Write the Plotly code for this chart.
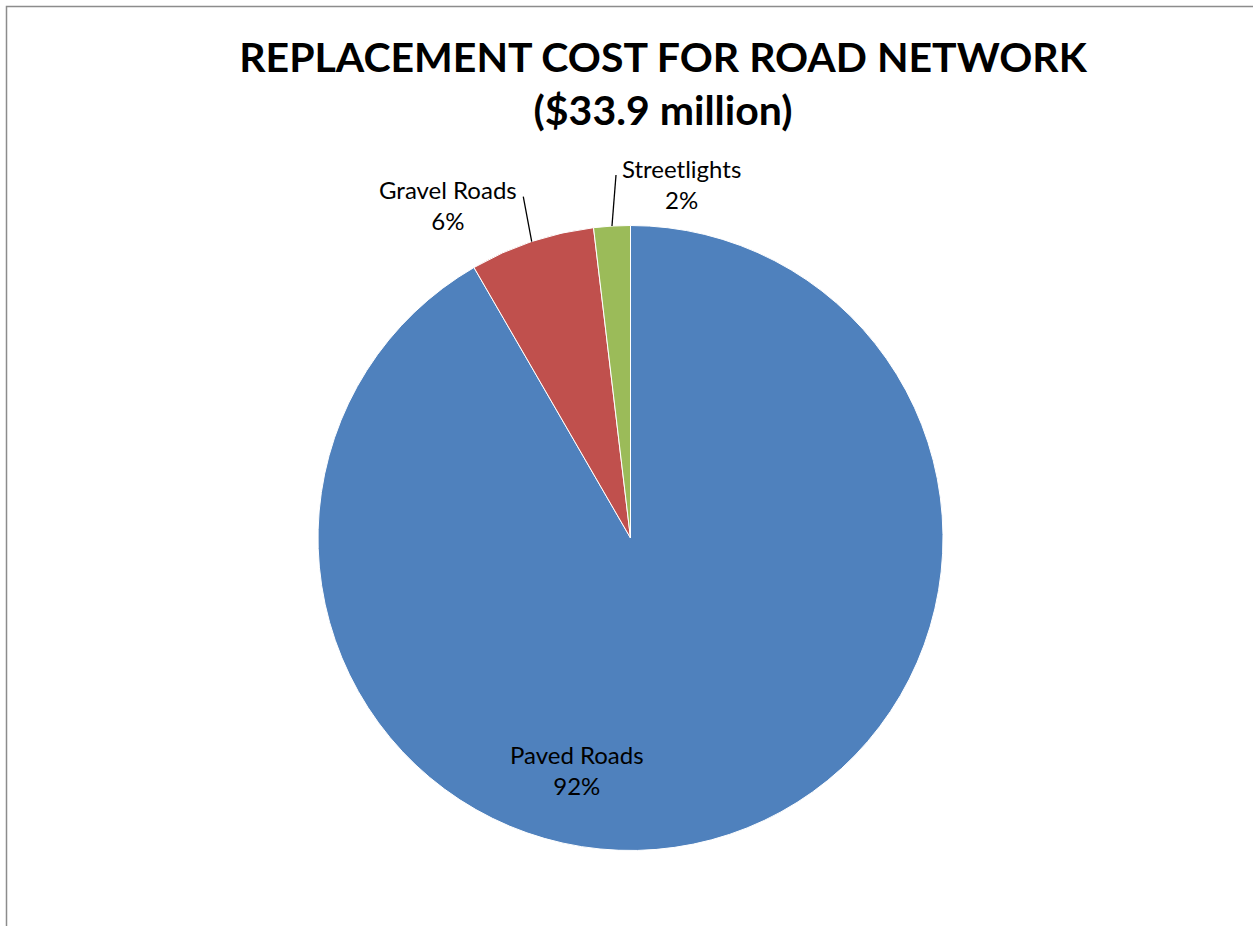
import math
import plotly.graph_objects as go

# Replacement cost by asset class ($ million)
categories = ["Paved Roads", "Gravel Roads", "Streetlights"]
values = [31.07, 2.19, 0.64]
colors = ["#4F81BD", "#C0504D", "#9BBB59"]

W, H = 1253, 926
cx, cy, r = 630.5, 538.0, 312.5  # pie centre and radius in pixels

total = sum(values)
pcts = [v / total for v in values]


def px(x):
    return x / W


def py(y):
    return 1 - y / H


fig = go.Figure(
    go.Pie(
        labels=categories,
        values=values,
        marker=dict(colors=colors, line=dict(color="white", width=1)),
        sort=False,
        direction="clockwise",
        rotation=0,
        textinfo="none",
        hoverinfo="label+percent",
        showlegend=False,
        domain=dict(x=[px(cx - r), px(cx + r)], y=[py(cy + r), py(cy - r)]),
    )
)

font = dict(family="Lato, Open Sans, sans-serif", size=24, color="#000000")


def label(i):
    return f"{categories[i]}<br>{round(pcts[i] * 100):.0f}%"


annotations = [
    dict(x=px(577), y=py(770), text=label(0)),
    dict(x=px(448), y=py(205), text=label(1)),
    dict(x=px(681), y=py(184), text=label(2)),
]
for a in annotations:
    a.update(xref="paper", yref="paper", showarrow=False, xanchor="center",
             yanchor="middle", font=font, align="center")


# Leader lines from the outside labels to the middle of their slice's arc
def arc_point(frac_from_top_ccw):
    ang = 2 * math.pi * frac_from_top_ccw
    return cx - r * math.sin(ang), cy - r * math.cos(ang)


street_mid = pcts[2] / 2
gravel_mid = pcts[2] + pcts[1] / 2
shapes = []
for (sx, sy), mid in [((523.3, 196.7), gravel_mid), ((616.0, 175.0), street_mid)]:
    ex, ey = arc_point(mid)
    shapes.append(dict(type="line", xref="paper", yref="paper",
                       x0=px(sx), y0=py(sy), x1=px(ex), y1=py(ey),
                       line=dict(color="#000000", width=1.3)))

# Chart-area border (top and left edges visible)
shapes.append(dict(type="rect", xref="paper", yref="paper",
                   x0=px(6.5), y0=py(960), x1=px(1300), y1=py(6.5),
                   line=dict(color="#8C8C8C", width=1.5), layer="above"))

fig.update_layout(
    width=W,
    height=H,
    margin=dict(l=0, r=0, t=0, b=0),
    paper_bgcolor="white",
    plot_bgcolor="white",
    title=dict(
        text="<b>REPLACEMENT COST FOR ROAD NETWORK<br>($33.9 million)</b>",
        x=px(663), y=py(72), xanchor="center", yanchor="middle",
        font=dict(family="Lato, Open Sans, sans-serif", size=41, color="#000000"),
    ),
    annotations=annotations,
    shapes=shapes,
)

fig.write_html("out.html")
